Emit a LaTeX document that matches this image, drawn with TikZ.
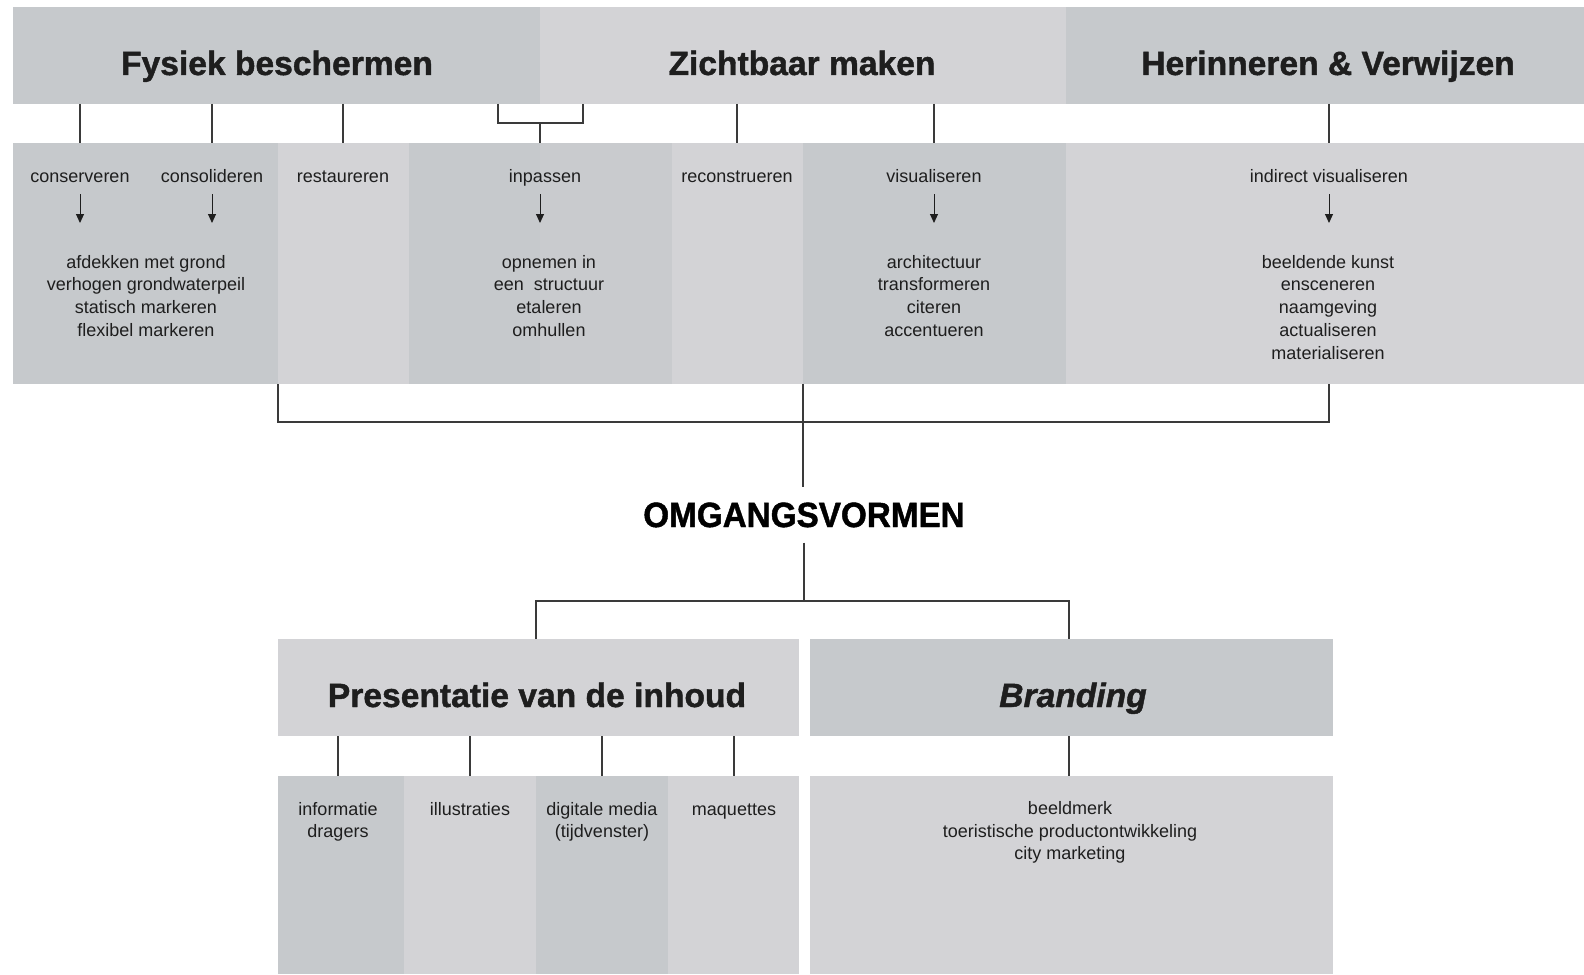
\documentclass[tikz,border=0pt]{standalone}
\usepackage{fontspec}
\setmainfont{Liberation Sans}
\newfontfamily\heavyfont{Liberation Sans}[BoldFeatures={FakeBold=1.3},BoldItalicFeatures={FakeBold=1.3}]
\usetikzlibrary{arrows.meta,positioning,fit}
\definecolor{boxdark}{HTML}{C6C9CC}
\definecolor{boxmid}{HTML}{C9CBCE}
\definecolor{boxlight}{HTML}{D3D3D6}
\definecolor{ink}{HTML}{1E1E1E}
\definecolor{wire}{HTML}{3A3A3A}

\begin{document}
\begin{tikzpicture}[
  x=0.5pt,y=-0.5pt,
  font=\fontsize{9}{11.35}\selectfont,
  dk/.style={fill=boxdark,inner sep=0pt,outer sep=0pt},
  lt/.style={fill=boxlight,inner sep=0pt,outer sep=0pt},
  head/.style={font=\fontsize{16.8}{20}\selectfont\heavyfont\bfseries,text=ink,anchor=base,inner sep=0pt},
  lbl/.style={text=ink,anchor=base,inner sep=0pt,text height=7pt,text depth=2.5pt},
  list/.style={text=ink,anchor=north,inner sep=0pt,align=center},
  wire/.style={draw=wire,line width=0.75pt},
  arr/.style={draw=ink,line width=0.5pt,-{Triangle[length=4.5pt,width=4pt]},
              shorten <=3.5pt,shorten >=14.5pt}]
\path[use as bounding box] (0,0) rectangle (1584,974);

\node[dk,fit={(13,7) (540,104)}] (fys) {};
\node[lt,fit={(540,7) (1066,104)}] (zic) {};
\node[dk,fit={(1066,7) (1584,104)}] (her) {};
\node[head] (fysT) at (277,75) {Fysiek beschermen};
\node[head] (zicT) at (802,75) {Zichtbaar maken};
\node[head] (herT) at (1328,75) {Herinneren \& Verwijzen};

\node[dk,fit={(13,143) (278,384)}] (b1) {};
\node[lt,fit={(278,143) (409,384)}] (b2) {};
\node[dk,fit={(409,143) (540,384)}] (b3) {};
\node[dk,fill=boxmid,fit={(540,143) (672,384)}] (b3r) {};
\node[lt,fit={(672,143) (803,384)}] (b4) {};
\node[dk,fit={(803,143) (1066,384)}] (b5) {};
\node[lt,fit={(1066,143) (1584,384)}] (b6) {};

\node[lbl] (cons) at (80,182) {conserveren};
\node[lbl] (cnsl) at (212,182) {consolideren};
\node[lbl] (rest) at (343,182) {restaureren};
\node[lbl] (inp) at (545,182) {inpassen};
\node[lbl] (reco) at (737,182) {reconstrueren};
\node[lbl] (visu) at (934,182) {visualiseren};
\node[lbl] (indi) at (1329,182) {indirect visualiseren};

\node[list] (fysL) at (146,252) {\strut afdekken met grond\\verhogen grondwaterpeil\\statisch markeren\\flexibel markeren};
\node[list] (inpL) at (549,252) {\strut opnemen in\\een\ \ structuur\\etaleren\\omhullen};
\node[list] (visL) at (934,252) {\strut architectuur\\transformeren\\citeren\\accentueren};
\node[list] (indL) at (1328,252) {\strut beeldende kunst\\ensceneren\\naamgeving\\actualiseren\\materialiseren};

\coordinate (ipL) at (498,123);
\coordinate (ip) at (540,123);
\coordinate (ipR) at (583,123);

\draw[wire] (cons |- fys.south) -- (cons |- b1.north);
\draw[wire] (cnsl |- fys.south) -- (cnsl |- b1.north);
\draw[wire] (rest |- fys.south) -- (rest |- b2.north);
\draw[wire] (ipL |- fys.south) -- (ipL) -- (ipR) -- (ipR |- zic.south);
\draw[wire] (ip) -- (ip |- b3.north);
\draw[wire] (reco |- zic.south) -- (reco |- b4.north);
\draw[wire] (visu |- zic.south) -- (visu |- b5.north);
\draw[wire] (indi |- her.south) -- (indi |- b6.north);

\draw[arr] (cons.south) -- (cons.south |- fysL.north);
\draw[arr] (cnsl.south) -- (cnsl.south |- fysL.north);
\draw[arr] (inp.south -| ip) -- (ip |- inpL.north);
\draw[arr] (visu.south) -- (visu.south |- visL.north);
\draw[arr] (indi.south) -- (indi.south |- indL.north);

\node[font=\fontsize{17.5}{20}\selectfont\heavyfont\bfseries,text=black,anchor=base,inner sep=7.5pt] (omg) at (804,527) {\scalebox{0.95}[1]{OMGANGSVORMEN}};

\coordinate (mrgL) at (278,422);
\coordinate (mrgR) at (1329,422);
\draw[wire] (b1.south east) -- (mrgL) -- (mrgR) -- (mrgR |- b6.south);
\draw[wire] (b4.south east) -- (b4.south east |- omg.north);

\node[lt,fit={(278,639) (799,736)}] (pres) {};
\node[dk,fit={(810,639) (1333,736)}] (brand) {};
\node[head] (presT) at (537,707) {Presentatie van de inhoud};
\node[head] (brandT) at (1073,707) {\itshape Branding};

\coordinate (splL) at (536,601);
\coordinate (splR) at (1069,601);
\draw[wire] (omg.south) -- (omg.south |- splL);
\draw[wire] (splL |- pres.north) -- (splL) -- (splR) -- (splR |- brand.north);

\node[dk,fit={(278,776) (404,974)}] (c1) {};
\node[lt,fit={(404,776) (536,974)}] (c2) {};
\node[dk,fit={(536,776) (668,974)}] (c3) {};
\node[lt,fit={(668,776) (799,974)}] (c4) {};
\node[lt,fit={(810,776) (1333,974)}] (c5) {};

\node[list] (inf) at (338,799) {\strut informatie\\dragers};
\node[list] (ill) at (470,799) {\strut illustraties};
\node[list] (dig) at (602,799) {\strut digitale media\\(tijdvenster)};
\node[list] (maq) at (734,799) {\strut maquettes};
\node[list] (mrk) at (1070,798) {\strut beeldmerk\\toeristische productontwikkeling\\city marketing};

\draw[wire] (inf |- pres.south) -- (inf |- c1.north);
\draw[wire] (ill |- pres.south) -- (ill |- c2.north);
\draw[wire] (dig |- pres.south) -- (dig |- c3.north);
\draw[wire] (maq |- pres.south) -- (maq |- c4.north);
\draw[wire] (splR |- brand.south) -- (splR |- c5.north);
\end{tikzpicture}
\end{document}
